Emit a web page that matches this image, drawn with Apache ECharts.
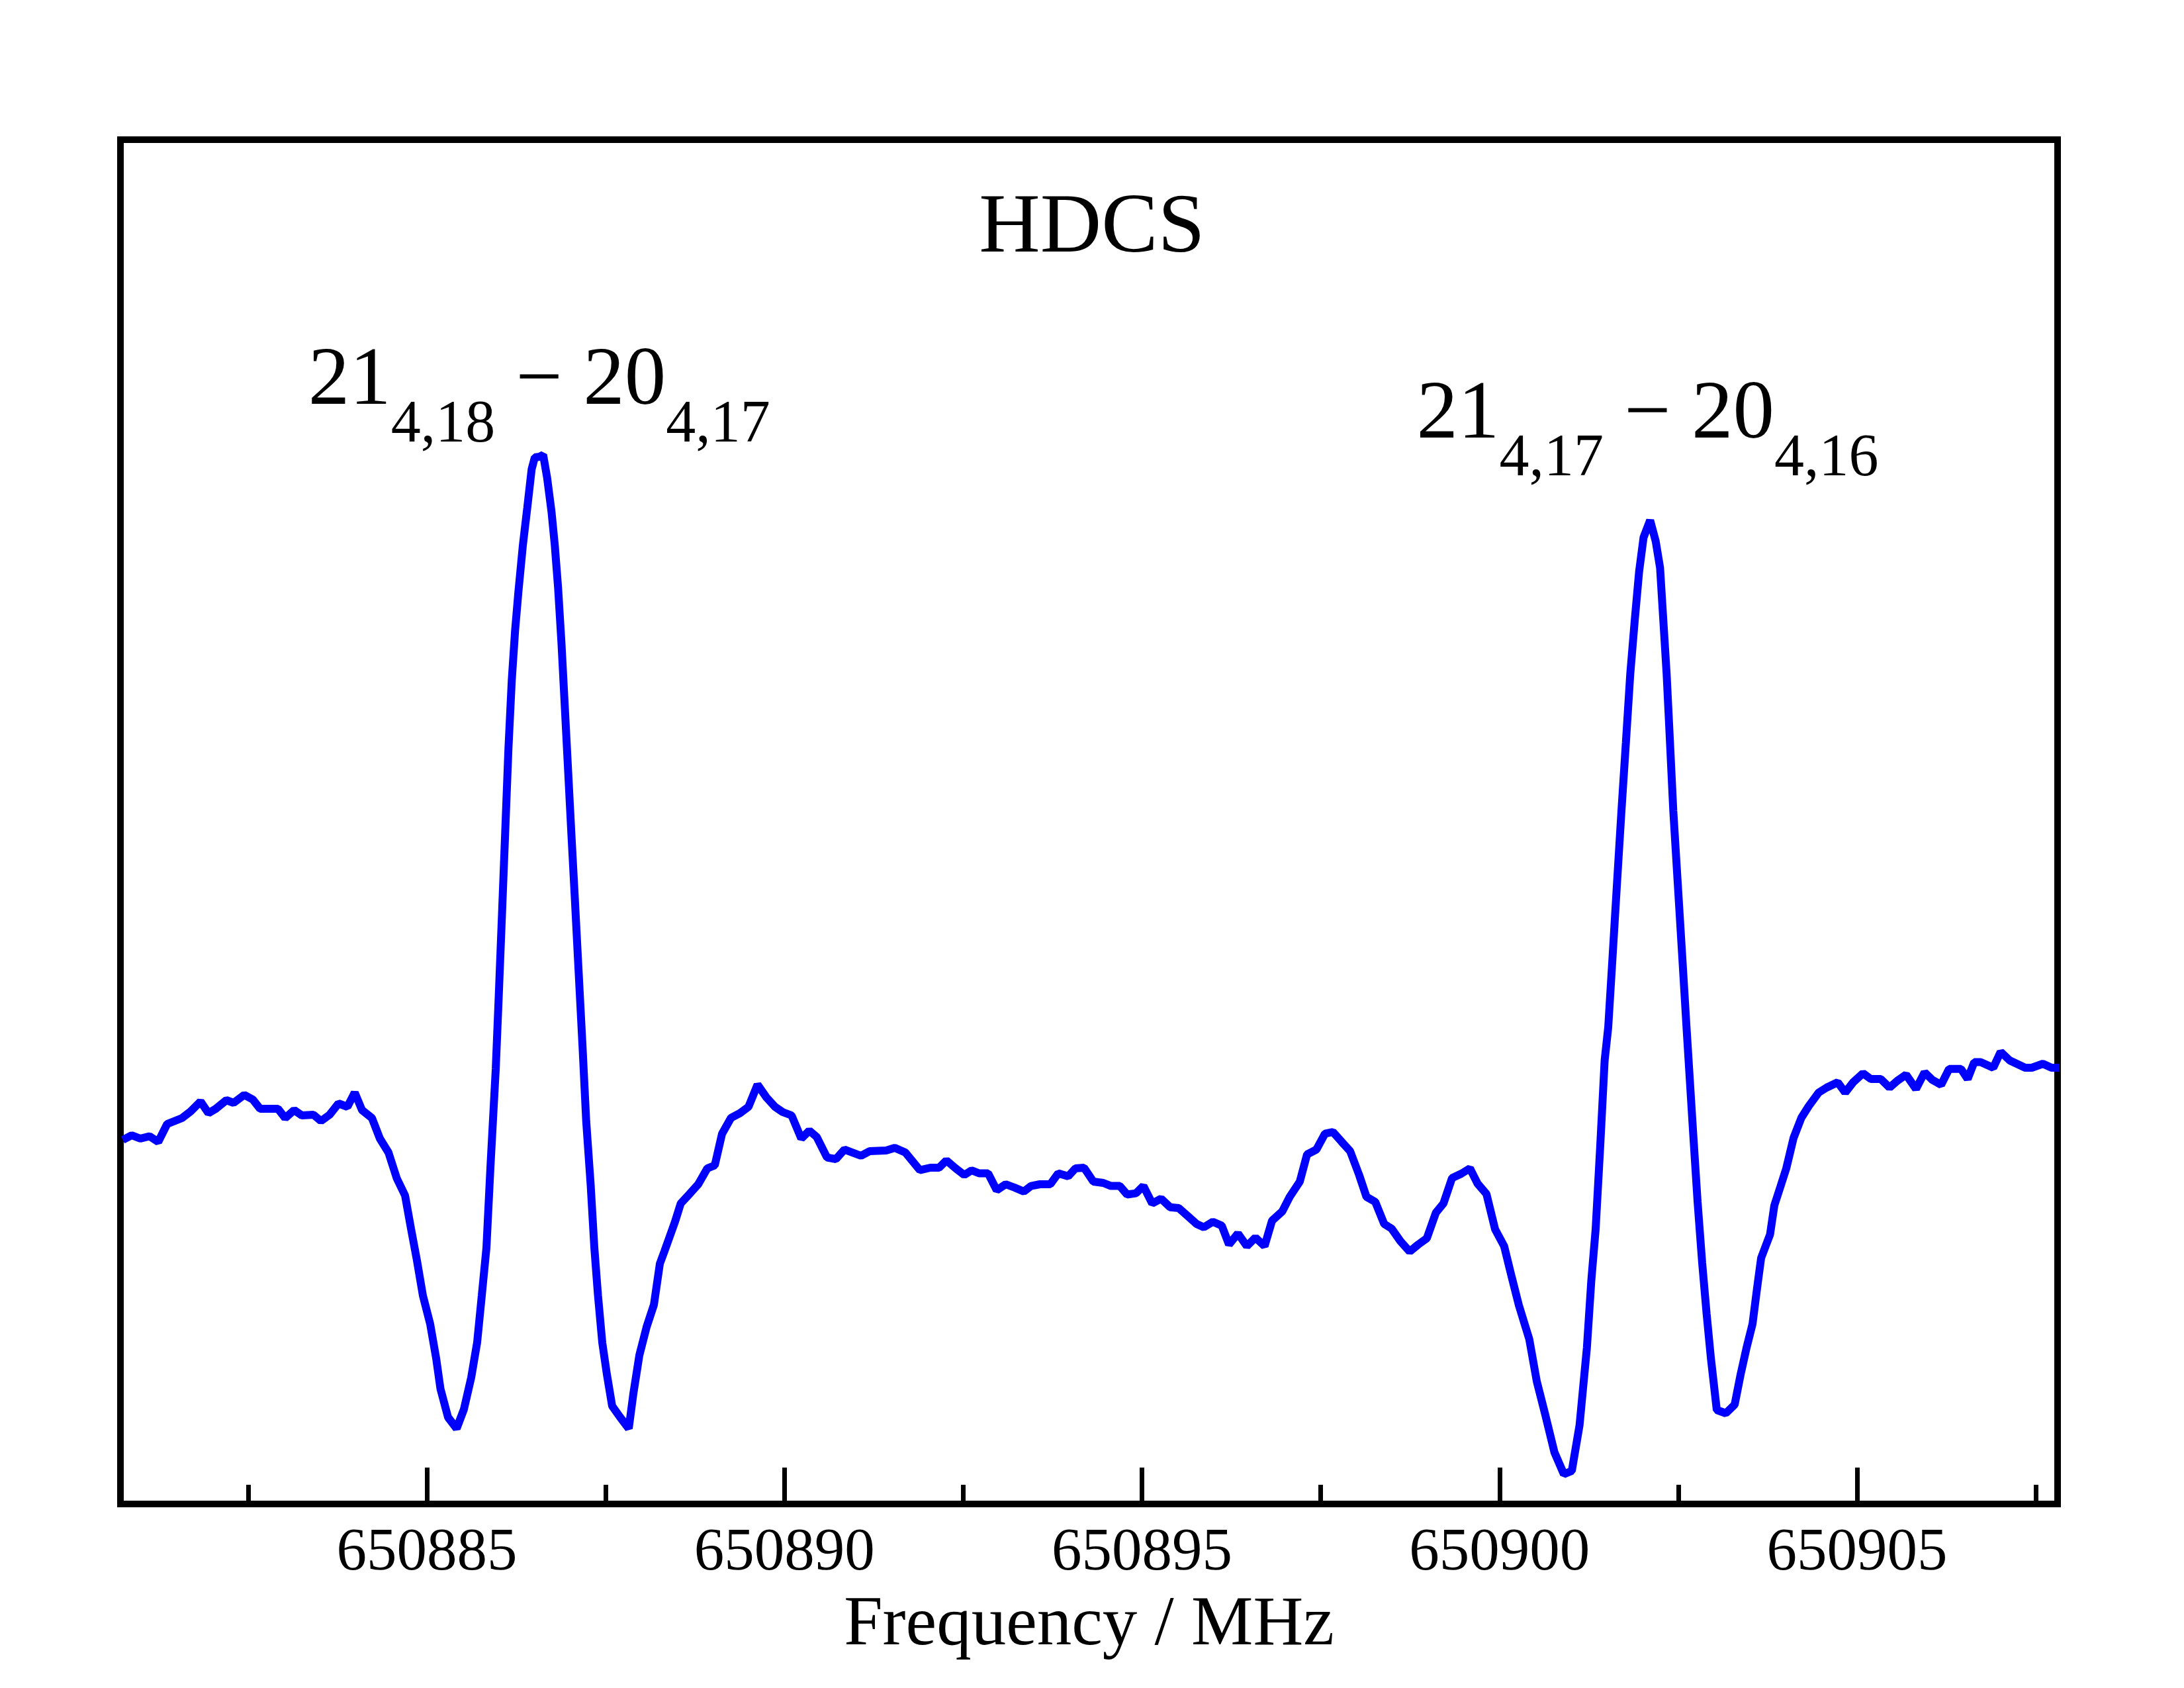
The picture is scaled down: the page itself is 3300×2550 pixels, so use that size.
<!DOCTYPE html>
<html>
<head>
<meta charset="utf-8">
<title>HDCS</title>
<script src="https://cdn.jsdelivr.net/npm/echarts@6/dist/echarts.min.js"></script>
<style>
    html, body { margin: 0; padding: 0; background: #ffffff; }
    #chart { width: 3300px; height: 2550px; }
</style>
</head>
<body>
<div id="chart"></div>
<script>
// frequency axis (MHz)
var freq = [
    650880.748, 650880.872, 650880.993, 650881.122, 650881.243, 650881.368, 650881.576, 650881.696, 650881.835, 650881.946,
    650882.048, 650882.196, 650882.298, 650882.446, 650882.566, 650882.668, 650882.918, 650883.019, 650883.144, 650883.251,
    650883.414, 650883.519, 650883.640, 650883.764, 650883.889, 650883.991, 650884.093, 650884.232, 650884.343, 650884.463,
    650884.579, 650884.695, 650884.778, 650884.861, 650884.944, 650885.046, 650885.130, 650885.190, 650885.296, 650885.416,
    650885.518, 650885.620, 650885.703, 650885.768, 650885.833, 650885.888, 650885.963, 650886.002, 650886.049, 650886.095,
    650886.141, 650886.187, 650886.234, 650886.280, 650886.342, 650886.404, 650886.465, 650886.509, 650886.573, 650886.626,
    650886.682, 650886.743, 650886.789, 650886.835, 650886.882, 650886.928, 650886.974, 650887.020, 650887.067, 650887.113,
    650887.175, 650887.228, 650887.290, 650887.342, 650887.393, 650887.453, 650887.517, 650887.591, 650887.703, 650887.823,
    650887.888, 650887.971, 650888.073, 650888.175, 650888.258, 650888.323, 650888.467, 650888.550, 650888.674, 650888.795,
    650888.922, 650889.026, 650889.128, 650889.253, 650889.378, 650889.498, 650889.624, 650889.748, 650889.868, 650889.976,
    650890.100, 650890.236, 650890.348, 650890.451, 650890.596, 650890.720, 650890.840, 650891.071, 650891.192, 650891.423,
    650891.543, 650891.691, 650891.895, 650892.041, 650892.163, 650892.265, 650892.395, 650892.515, 650892.617, 650892.723,
    650892.848, 650892.969, 650893.094, 650893.218, 650893.348, 650893.450, 650893.574, 650893.718, 650893.829, 650893.968,
    650894.070, 650894.190, 650894.320, 650894.459, 650894.566, 650894.690, 650894.792, 650894.917, 650895.020, 650895.143,
    650895.268, 650895.393, 650895.514, 650895.640, 650895.764, 650895.865, 650895.991, 650896.115, 650896.217, 650896.342,
    650896.467, 650896.587, 650896.714, 650896.819, 650896.962, 650897.066, 650897.207, 650897.309, 650897.439, 650897.559,
    650897.670, 650897.790, 650897.911, 650898.037, 650898.139, 650898.262, 650898.387, 650898.491, 650898.614, 650898.744,
    650898.864, 650898.984, 650899.110, 650899.216, 650899.336, 650899.466, 650899.586, 650899.693, 650899.817, 650899.938,
    650900.065, 650900.169, 650900.271, 650900.416, 650900.521, 650900.641, 650900.768, 650900.900, 650901.011, 650901.119,
    650901.222, 650901.284, 650901.344, 650901.409, 650901.470, 650901.520, 650901.582, 650901.643, 650901.705, 650901.767,
    650901.828, 650901.890, 650901.952, 650902.014, 650902.106, 650902.184, 650902.245, 650902.291, 650902.337, 650902.384,
    650902.430, 650902.492, 650902.554, 650902.615, 650902.709, 650902.770, 650902.834, 650902.896, 650902.955, 650903.038,
    650903.164, 650903.288, 650903.371, 650903.455, 650903.538, 650903.598, 650903.658, 650903.783, 650903.843, 650903.927,
    650904.010, 650904.112, 650904.220, 650904.324, 650904.463, 650904.574, 650904.729, 650904.834, 650904.945, 650905.083,
    650905.192, 650905.331, 650905.454, 650905.562, 650905.685, 650905.824, 650905.944, 650906.055, 650906.175, 650906.287,
    650906.453, 650906.546, 650906.638, 650906.731, 650906.904, 650907.008, 650907.135, 650907.351, 650907.443, 650907.598,
    650907.721, 650907.829
];

// intensity (arbitrary units)
var intensity = [
    -0.2, 0.5, 0.0, 0.35, -0.5, 2.2, 3.1, 4.1, 5.6, 3.84,
    4.5, 5.8, 5.4, 6.6, 5.9, 4.5, 4.5, 3.1, 4.3, 3.5,
    3.6, 2.65, 3.6, 5.3, 4.8, 6.95, 4.3, 3.1, 0.0, -2.1,
    -6.0, -8.6, -13.6, -18.4, -23.7, -28.0, -33.2, -37.8, -42.1, -43.8,
    -40.9, -36.1, -30.8, -23.7, -16.5, -4.5, 10.5, 20.7, 33.5, 46.2,
    59.0, 69.2, 76.8, 82.6, 89.6, 95.3, 101.1, 102.9, 103.0, 103.3,
    99.8, 94.7, 89.6, 83.2, 74.9, 65.4, 55.8, 46.2, 36.7, 27.1,
    14.3, 2.65, -6.9, -16.5, -23.7, -30.85, -35.6, -40.4, -42.1, -43.8,
    -38.5, -32.76, -28.45, -25.1, -18.9, -17.0, -12.66, -9.8, -8.36, -6.9,
    -4.5, -4.05, 0.73, 3.12, 3.84, 4.8, 8.15, 6.23, 4.8, 4.0,
    3.5, 0.0, 1.2, 0.25, -2.86, -3.1, -1.66, -2.6, -1.9, -1.8,
    -1.4, -2.1, -4.77, -4.4, -4.4, -3.3, -4.5, -5.5, -4.8, -5.25,
    -5.25, -7.8, -6.9, -7.4, -8.0, -7.16, -6.9, -6.9, -5.25, -5.7,
    -4.5, -4.4, -6.5, -6.7, -7.16, -7.16, -8.45, -8.26, -7.16, -9.8,
    -9.08, -10.37, -10.5, -11.7, -12.9, -13.4, -12.57, -13.14, -16.0, -14.34,
    -16.25, -14.96, -16.25, -12.4, -11.0, -8.8, -6.5, -2.38, -1.66, 0.73,
    1.0, -0.46, -1.9, -5.5, -8.8, -9.56, -12.9, -13.6, -15.5, -17.07,
    -16.0, -15.06, -11.2, -9.8, -5.97, -5.3, -4.5, -6.8, -8.36, -13.7,
    -16.27, -20.86, -25.2, -30.3, -36.67, -41.78, -47.4, -50.7, -50.2, -43.3,
    -31.57, -21.37, -13.7, -0.96, 11.8, 16.8, 27.7, 38.6, 49.5, 59.8,
    70.15, 78.2, 85.65, 90.8, 93.4, 90.24, 86.22, 78.2, 70.15, 59.8,
    49.5, 38.6, 27.7, 16.8, 0.6, -9.6, -18.8, -26.47, -33.1, -41.0,
    -41.5, -40.2, -35.65, -31.57, -28.0, -22.9, -18.05, -14.48, -10.1, -7.3,
    -4.5, 0.1, 3.12, 4.9, 6.95, 7.7, 8.5, 6.95, 8.5, 9.86,
    9.0, 9.0, 7.7, 8.73, 9.65, 7.5, 10.0, 8.84, 8.12, 10.52,
    10.52, 9.0, 11.54, 11.54, 10.7, 13.1, 11.8, 10.7, 10.7, 11.3,
    10.7, 10.7
];

var majorTicks = [650885, 650890, 650895, 650900, 650905];
var minorTicks = [650882.5, 650887.5, 650892.5, 650897.5, 650902.5, 650907.5];

// transition labels: upper / lower level, with subscripts
var lineUpper = ['21', '21'];
var upperSub = ['4,18', '4,17'];
var lineLower = ['20', '20'];
var lowerSub = ['4,17', '4,16'];
var labelFreq = [650886.57, 650902.07];
var labelBase = [110.7, 105.6]; // baseline of the big digits, in intensity units

var xMin = 650880.715, xMax = 650907.804;
var yMin = -55.2, yMax = 150.9;

var serif = "'Liberation Serif', 'Times New Roman', serif";

var points = [];
for (var i = 0; i < freq.length; i++) {
    points.push([freq[i], intensity[i]]);
}
if (freq.length !== intensity.length) console.log('length mismatch', freq.length, intensity.length);

var myChart = echarts.init(document.getElementById('chart'), null, {renderer: 'canvas'});

var option = {
    backgroundColor: '#ffffff',
    animation: false,
    title: {
        text: 'HDCS',
        left: 'center',
        top: 277,
        textStyle: {fontFamily: serif, fontSize: 128, fontWeight: 'normal', color: '#000000'}
    },
    grid: {
        left: 182, right: 191, top: 211, bottom: 278,
        show: true,
        borderColor: '#000000',
        borderWidth: 10,
        backgroundColor: 'transparent'
    },
    xAxis: [
        {
            type: 'value',
            min: xMin, max: xMax,
            position: 'bottom',
            axisLine: {show: false, onZero: false},
            splitLine: {show: false},
            axisTick: {
                show: true, inside: true, length: 55,
                customValues: majorTicks,
                lineStyle: {color: '#000000', width: 7}
            },
            axisLabel: {
                customValues: majorTicks,
                margin: 30,
                fontFamily: serif, fontSize: 91, color: '#000000',
                formatter: function (v) { return String(Math.round(v)); }
            },
            name: 'Frequency / MHz',
            nameLocation: 'middle',
            nameGap: 132,
            nameTextStyle: {fontFamily: serif, fontSize: 105, color: '#000000'}
        },
        {
            // minor ticks only
            type: 'value',
            min: xMin, max: xMax,
            position: 'bottom',
            axisLine: {show: false, onZero: false},
            splitLine: {show: false},
            axisLabel: {show: false},
            axisTick: {
                show: true, inside: true, length: 29,
                customValues: minorTicks,
                lineStyle: {color: '#000000', width: 7}
            }
        }
    ],
    yAxis: {
        type: 'value',
        min: yMin, max: yMax,
        show: false
    },
    series: [
        {
            name: 'HDCS',
            type: 'line',
            xAxisIndex: 0,
            data: points,
            showSymbol: false,
            symbol: 'none',
            clip: true,
            lineStyle: {color: '#0000ff', width: 12},
            emphasis: {disabled: true}
        }
    ]
};
myChart.setOption(option);

// put the transition labels above the two lines
var rich = {
    n: {fontFamily: serif, fontSize: 125, lineHeight: 125, verticalAlign: 'top', color: '#000000'},
    s: {fontFamily: serif, fontSize: 90, lineHeight: 90, verticalAlign: 'top', color: '#000000', padding: [83, 0, 0, 0]}
};
var labels = [];
for (var k = 0; k < labelFreq.length; k++) {
    var p = myChart.convertToPixel({seriesIndex: 0}, [labelFreq[k], labelBase[k]]);
    labels.push({
        type: 'text',
        x: p[0],
        y: p[1] - 98,
        style: {
            text: '{n|' + lineUpper[k] + '}{s|' + upperSub[k] + '}{n| \u2212 ' + lineLower[k] + '}{s|' + lowerSub[k] + '}',
            rich: rich,
            align: 'center',
            verticalAlign: 'top',
            fill: '#000000'
        }
    });
}
myChart.setOption({graphic: labels});
</script>
</body>
</html>
